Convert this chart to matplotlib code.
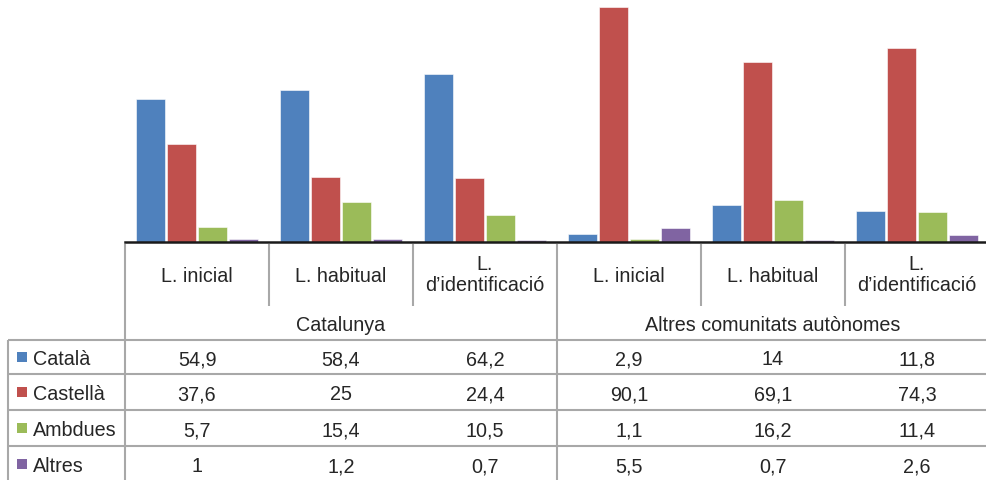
import numpy as np
import matplotlib
matplotlib.use("Agg")
import matplotlib.pyplot as plt

plt.rcParams['font.family'] = ['Liberation Sans', 'DejaVu Sans']

# dades
llengues = ['L. inicial', 'L. habitual', 'L.\nd\u2019identificació']
territoris = ['Catalunya', 'Altres comunitats autònomes']
series = ['Català', 'Castellà', 'Ambdues', 'Altres']
catala = [54.9, 58.4, 64.2, 2.9, 14, 11.8]
castella = [37.6, 25, 24.4, 90.1, 69.1, 74.3]
ambdues = [5.7, 15.4, 10.5, 1.1, 16.2, 11.4]
altres = [1, 1.2, 0.7, 5.5, 0.7, 2.6]
valors = [catala, castella, ambdues, altres]
colors = ['#4F81BD', '#C0504D', '#9BBB59', '#8064A2']

W, H = 986, 481
col_px = 144          # amplada de cada columna de la taula
x0_px = 125           # on comença la primera columna
base_px = 243         # línia base del gràfic
px_per_unit = 2.61

fig = plt.figure(figsize=(W / 100, H / 100), dpi=100)

# gràfic de barres
ax = fig.add_axes([x0_px / W, (H - base_px) / H, 6 * col_px / W, base_px / H])
x = np.arange(6)
step, width = 31 / col_px, 29 / col_px
for k in range(4):
    ax.bar(x + (k - 1.5) * step, valors[k], width=width, color=colors[k],
           edgecolor='white', linewidth=0.4)
ax.set_xlim(-0.5, 5.5)
ax.set_ylim(0, base_px / px_per_unit)
for s in ['top', 'right', 'left']:
    ax.spines[s].set_visible(False)
ax.spines['bottom'].set_color('#1a1a1a')
ax.spines['bottom'].set_linewidth(1.8)
ax.set_xticks([])
ax.set_yticks([])

# taula de dades (x en unitats de columna, y en píxels)
tab = fig.add_axes([0, 0, 1, 1], zorder=-1)
tab.set_xlim(-0.5 - x0_px / col_px, -0.5 + (W - x0_px) / col_px)
tab.set_ylim(H, 0)
tab.axis('off')

gris = '#a8a8a8'
lw = 1.5
txt = '#262626'
fs = 14.2
dy = 2  # petit desplaçament vertical del text
left = -0.5 - (x0_px - 8) / col_px
top, mid, hdr = 245, 307, 341
rows = [hdr, 375, 411, 447, 483]

# línies verticals
tab.vlines([-0.5, 2.5, 5.5], top, rows[-1], color=gris, lw=lw)
tab.vlines([0.5, 1.5, 3.5, 4.5], top, mid, color=gris, lw=lw)
tab.vlines([left], hdr, rows[-1], color=gris, lw=lw)
# línies horitzontals
tab.hlines(rows, left, 5.5, color=gris, lw=lw)

# capçaleres
for i in range(6):
    nom = llengues[i % 3]
    yc = 275 + (dy if '\n' not in nom else 0)
    tab.text(i, yc, nom, ha='center', va='center',
             fontsize=fs, color=txt, linespacing=1.15)
for g, nom in enumerate(territoris):
    tab.text(3 * g + 1, 324 + dy, nom, ha='center', va='center', fontsize=fs, color=txt)

# files amb la llegenda i els valors
for r, nom in enumerate(series):
    yc = (rows[r] + rows[r + 1]) / 2
    tab.scatter([left + 14 / col_px], [yc], marker='s', s=50, color=colors[r],
                linewidths=0)
    tab.text(left + 25 / col_px, yc + dy, nom, ha='left', va='center',
             fontsize=fs, color=txt)
    for i, v in enumerate(valors[r]):
        tab.text(i, yc + dy, f"{v:g}".replace('.', ','), ha='center', va='center',
                 fontsize=fs, color=txt)

fig.savefig('out.png', dpi=100)
